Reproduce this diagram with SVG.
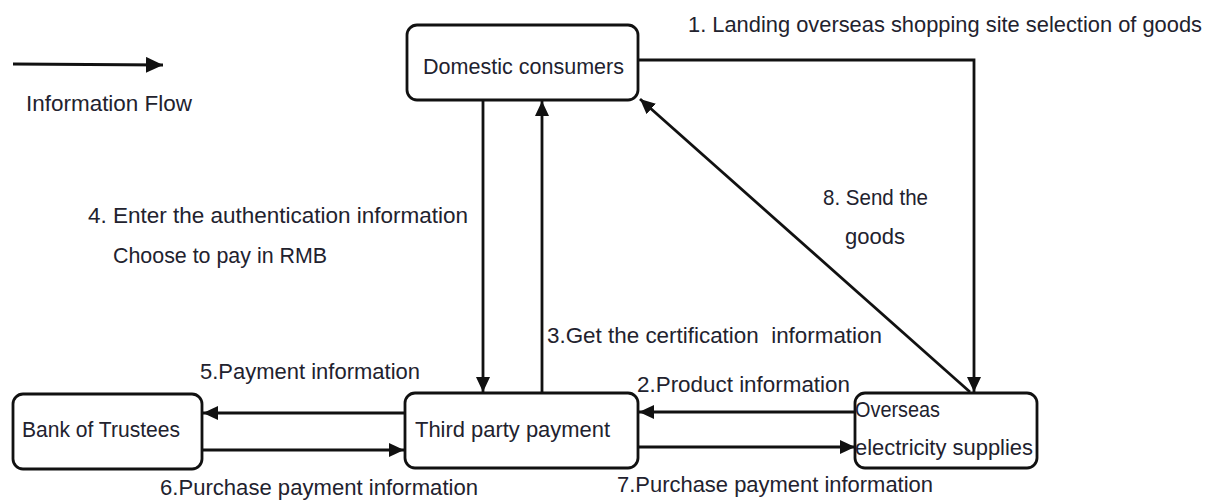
<svg xmlns="http://www.w3.org/2000/svg" width="1206" height="504" viewBox="0 0 1206 504">
  <style>
    .box { fill: #ffffff; stroke: #111111; stroke-width: 2.8; }
    .flow { fill: none; stroke: #111111; stroke-width: 2.8; marker-end: url(#head); }
    .txt { font-family: "Liberation Sans", Arial, sans-serif; font-size: 22px; fill: #22222e; }
  </style>
  <defs>
    <marker id="head" markerUnits="userSpaceOnUse" markerWidth="16" markerHeight="14" refX="15" refY="7" orient="auto">
      <path d="M0,0 L15,7 L0,14 Z" fill="#111111"/>
    </marker>
    <marker id="headBig" markerUnits="userSpaceOnUse" markerWidth="18" markerHeight="16" refX="17" refY="8" orient="auto">
      <path d="M0,0 L17,8 L0,16 Z" fill="#111111"/>
    </marker>
  </defs>

  <rect width="1206" height="504" fill="#ffffff"/>

  <!-- legend -->
  <g id="legend">
    <line x1="13" y1="64" x2="163" y2="65" stroke="#111111" stroke-width="3" marker-end="url(#headBig)"/>
    <text class="txt" x="26" y="111" textLength="166" lengthAdjust="spacingAndGlyphs">Information Flow</text>
  </g>

  <!-- connectors -->
  <g id="connectors">
    <polyline class="flow" points="638,60 974,60 974,392"/>
    <line class="flow" x1="855" y1="412" x2="639" y2="412"/>
    <line class="flow" x1="638" y1="447" x2="855" y2="447"/>
    <line class="flow" x1="542" y1="393" x2="542" y2="101"/>
    <line class="flow" x1="483" y1="100" x2="483" y2="392"/>
    <line class="flow" x1="405" y1="413" x2="203" y2="413"/>
    <line class="flow" x1="202" y1="450" x2="404" y2="450"/>
    <line class="flow" x1="970" y1="392" x2="640" y2="99"/>
  </g>

  <!-- connector labels -->
  <g id="labels">
    <text class="txt" x="688" y="32" textLength="514" lengthAdjust="spacingAndGlyphs">1. Landing overseas shopping site selection of goods</text>
    <text class="txt" x="88" y="223" textLength="380" lengthAdjust="spacingAndGlyphs">4. Enter the authentication information</text>
    <text class="txt" x="113" y="263" textLength="214" lengthAdjust="spacingAndGlyphs">Choose to pay in RMB</text>
    <text class="txt" x="547" y="343" textLength="335" lengthAdjust="spacingAndGlyphs" xml:space="preserve">3.Get the certification  information</text>
    <text class="txt" x="823" y="205" textLength="105" lengthAdjust="spacingAndGlyphs">8. Send the</text>
    <text class="txt" x="845" y="244" textLength="60" lengthAdjust="spacingAndGlyphs">goods</text>
    <text class="txt" x="200" y="379" textLength="220" lengthAdjust="spacingAndGlyphs">5.Payment information</text>
    <text class="txt" x="637" y="392" textLength="213" lengthAdjust="spacingAndGlyphs">2.Product information</text>
    <text class="txt" x="160" y="495" textLength="318" lengthAdjust="spacingAndGlyphs">6.Purchase payment information</text>
    <text class="txt" x="617" y="492" textLength="316" lengthAdjust="spacingAndGlyphs">7.Purchase payment information</text>
  </g>

  <!-- nodes -->
  <g id="domestic-consumers">
    <rect class="box" x="407" y="25" width="231" height="75" rx="10"/>
    <text class="txt" x="423" y="74" textLength="201" lengthAdjust="spacingAndGlyphs">Domestic consumers</text>
  </g>
  <g id="third-party-payment">
    <rect class="box" x="405" y="393" width="233" height="75" rx="10"/>
    <text class="txt" x="415" y="437" textLength="195" lengthAdjust="spacingAndGlyphs">Third party payment</text>
  </g>
  <g id="bank-of-trustees">
    <rect class="box" x="13" y="394" width="189" height="75" rx="10"/>
    <text class="txt" x="22" y="437" textLength="158" lengthAdjust="spacingAndGlyphs">Bank of Trustees</text>
  </g>
  <g id="overseas-suppliers">
    <rect class="box" x="855" y="393" width="182" height="75" rx="10"/>
    <text class="txt" x="855" y="417" textLength="85" lengthAdjust="spacingAndGlyphs">Overseas</text>
    <text class="txt" x="855" y="455" textLength="178" lengthAdjust="spacingAndGlyphs">electricity supplies</text>
  </g>
</svg>
